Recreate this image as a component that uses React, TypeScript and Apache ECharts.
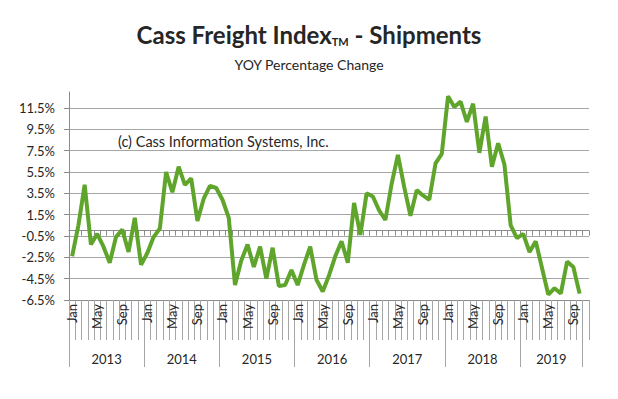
import React, { useEffect, useRef } from "react";
import * as echarts from "echarts";

const years = ["2013", "2014", "2015", "2016", "2017", "2018", "2019"];
const monthNames = ["Jan", "Feb", "Mar", "Apr", "May", "Jun", "Jul", "Aug", "Sep", "Oct", "Nov", "Dec"];
const monthsIn2019 = 11; // axis runs through Nov 2019 (last month has no value)

const values2013 = [-2.4, 0.5, 4.3, -1.3, -0.3, -1.5, -3.0, -0.6, 0.1, -2.0, 1.2, -3.2];
const values2014 = [-2.1, -0.6, 0.2, 5.5, 3.6, 6.0, 4.3, 4.9, 0.9, 3.0, 4.2, 4.0];
const values2015 = [2.9, 1.2, -5.1, -2.8, -1.3, -3.4, -1.5, -4.5, -1.6, -5.2, -5.1, -3.7];
const values2016 = [-5.1, -3.2, -1.5, -4.6, -5.7, -4.2, -2.4, -1.0, -3.0, 2.6, -0.4, 3.5];
const values2017 = [3.2, 1.9, 1.0, 4.4, 7.1, 4.1, 1.4, 3.8, 3.3, 2.9, 6.3, 7.2];
const values2018 = [12.6, 11.6, 12.1, 10.2, 11.9, 7.3, 10.7, 6.0, 8.2, 6.2, 0.5, -0.7];
const values2019 = [-0.3, -2.0, -1.0, -3.5, -6.0, -5.4, -5.9, -2.9, -3.4, -5.9];

const yTicks = [-6.5, -4.5, -2.5, -0.5, 1.5, 3.5, 5.5, 7.5, 9.5, 11.5];
const yearBoundaries = [0, 12, 24, 36, 48, 60, 72, 82];
const yearCenters = [6, 18, 30, 42, 54, 66, 77];

const FONT = "Lato, 'Open Sans', sans-serif";
const GREEN = "#5fa52c";
const GRID_GRAY = "#a6a6a6";
const AXIS_GRAY = "#8c8c8c";

export default function App() {
  const ref = useRef<HTMLDivElement>(null);

  useEffect(() => {
    if (!ref.current) return;
    const chart = echarts.init(ref.current, null, { renderer: "svg" });

    const categories: string[] = [];
    years.forEach((y, yi) => {
      const n = yi === years.length - 1 ? monthsIn2019 : 12;
      for (let m = 0; m < n; m++) categories.push(monthNames[m]);
    });
    const values = [
      ...values2013, ...values2014, ...values2015, ...values2016,
      ...values2017, ...values2018, ...values2019,
    ];
    const nCat = categories.length;

    const gridPos = { left: 69, right: 29, top: 92, bottom: 99 };

    chart.setOption({
      animation: false,
      backgroundColor: "#ffffff",
      textStyle: { fontFamily: FONT },
      title: [
        {
          text: "{a|Cass Freight Index}{b|TM}{a| - Shipments}",
          left: "center",
          top: 15,
          textStyle: {
            rich: {
              a: { fontFamily: FONT, fontSize: 24, fontWeight: "bold", color: "#262626", lineHeight: 29 },
              b: { fontFamily: FONT, fontSize: 11, fontWeight: "bold", color: "#262626", verticalAlign: "bottom", lineHeight: 22, padding: [0, 0, 2, 0] },
            },
          },
        },
        {
          text: "YOY Percentage Change",
          left: "center",
          top: 52,
          textStyle: { fontFamily: FONT, fontSize: 14, fontWeight: "normal", color: "#262626" },
        },
      ],
      graphic: [
        {
          type: "text",
          left: 118,
          top: 134,
          style: { text: "(c) Cass Information Systems, Inc.", fontFamily: FONT, fontSize: 14.5, fill: "#262626" },
        },
      ],
      grid: [
        { ...gridPos, containLabel: false },
        { ...gridPos, containLabel: false, show: false },
      ],
      xAxis: [
        {
          type: "category",
          gridIndex: 0,
          data: categories,
          position: "bottom",
          boundaryGap: true,
          axisLine: { show: true, onZero: false, lineStyle: { color: AXIS_GRAY, width: 1 } },
          axisTick: { show: true, interval: 0, length: 40, lineStyle: { color: GRID_GRAY } },
          axisLabel: {
            interval: (i: number) => i % 4 === 0,
            rotate: 90,
            margin: 4,
            fontFamily: FONT,
            fontSize: 13,
            color: "#262626",
          },
          splitLine: { show: false },
        },
        {
          type: "category",
          gridIndex: 0,
          data: categories,
          position: "top",
          boundaryGap: true,
          axisLine: { show: true, onZero: true, lineStyle: { color: AXIS_GRAY, width: 1 } },
          axisTick: { show: true, inside: true, interval: 0, length: 5, lineStyle: { color: AXIS_GRAY } },
          axisLabel: { show: false },
          splitLine: { show: false },
        },
        {
          type: "value",
          gridIndex: 1,
          min: 0,
          max: nCat,
          position: "bottom",
          axisLine: { show: false, onZero: false },
          axisTick: { show: true, customValues: yearBoundaries, length: 67, lineStyle: { color: GRID_GRAY } },
          axisLabel: {
            customValues: yearCenters,
            formatter: (v: number) => years[yearCenters.indexOf(v)] ?? "",
            margin: 52,
            fontFamily: FONT,
            fontSize: 13,
            color: "#262626",
          },
          splitLine: { show: false },
        },
      ],
      yAxis: [
        {
          type: "value",
          gridIndex: 0,
          min: -6.5,
          max: 13,
          axisLine: { show: true, onZero: false, lineStyle: { color: AXIS_GRAY, width: 1 } },
          axisTick: { show: true, length: 5, customValues: yTicks, lineStyle: { color: AXIS_GRAY } },
          axisLabel: {
            customValues: yTicks,
            formatter: (v: number) => v.toFixed(1) + "%",
            margin: 14,
            fontFamily: FONT,
            fontSize: 13,
            color: "#262626",
          },
          splitLine: { show: true, lineStyle: { color: GRID_GRAY, width: 1 } },
        },
        { type: "value", gridIndex: 1, min: 0, max: 1, show: false },
      ],
      series: [
        {
          type: "line",
          xAxisIndex: 0,
          yAxisIndex: 0,
          data: values,
          symbol: "none",
          lineStyle: { color: GREEN, width: 4 },
        },
      ],
    });

    return () => chart.dispose();
  }, []);

  return (
    <div
      ref={ref}
      style={{ position: "fixed", left: 0, top: 0, width: 618, height: 399 }}
    />
  );
}
